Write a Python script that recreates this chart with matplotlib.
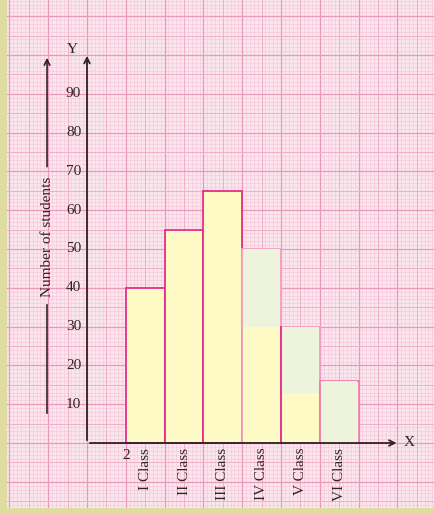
import numpy as np
import matplotlib.pyplot as plt

# 学年ごとの生徒数
classes = ["I Class", "II Class", "III Class", "IV Class", "V Class", "VI Class"]
students = [40, 55, 65, 50, 30, 16]
shade_from = [None, None, None, 30, 13, 0]   # 緑で塗る部分の下端
y_ticks = [10, 20, 30, 40, 50, 60, 70, 80, 90]

bar_left = 10
bar_width = 10

# 色
paper = "#fbe6ee"
fine_c = "#f5c8da"
mid_c = "#efb0c9"
major_c = "#e99ab9"
yellow = "#fefac6"
green = "#eef4dc"
magenta = "#e62d8b"
light_pink = "#f29ec2"
ink = "#2e2424"

plt.rcParams['font.family'] = ['Liberation Serif', 'DejaVu Serif']

fig = plt.figure(figsize=(4.34, 5.14), dpi=100)
fig.patch.set_facecolor("#dedc9f")

# 方眼紙部分
ax = fig.add_axes([7 / 434, 6 / 514, 427 / 434, 508 / 514])
ax.set_facecolor(paper)
px = 3.88
ax.set_xlim((7 - 87) / px, (434 - 87) / px)
ax.set_ylim((443 - 508) / px, 443 / px)
for s in ax.spines.values():
    s.set_visible(False)
ax.set_xticks([])
ax.set_yticks([])

# 方眼 (1目盛り, 5目盛り, 10目盛り)
x0, x1 = ax.get_xlim()
y0, y1 = ax.get_ylim()
for v in np.arange(np.ceil(x0), x1 + 1):
    if v % 10 == 0:
        ax.axvline(v, color=major_c, lw=0.9, zorder=1)
    elif v % 5 == 0:
        ax.axvline(v, color=mid_c, lw=0.7, zorder=1)
    else:
        ax.axvline(v, color=fine_c, lw=0.45, zorder=0.5)
for v in np.arange(np.ceil(y0), y1 + 1):
    if v % 10 == 0:
        ax.axhline(v, color=major_c, lw=0.9, zorder=1)
    elif v % 5 == 0:
        ax.axhline(v, color=mid_c, lw=0.7, zorder=1)
    else:
        ax.axhline(v, color=fine_c, lw=0.45, zorder=0.5)

# 棒グラフ
xs = [bar_left + i * bar_width for i in range(len(classes))]
edges = [magenta, magenta, magenta, light_pink, light_pink, "#ee7cb0"]
for i in range(len(classes)):
    ax.bar(xs[i], students[i], width=bar_width, align="edge", color=yellow,
           edgecolor=edges[i], lw=1.3, zorder=3)
    if shade_from[i] is not None:
        ax.bar(xs[i] + 0.3, students[i] - shade_from[i], width=bar_width - 0.6,
               bottom=shade_from[i], align="edge", color=green, lw=0, zorder=4)
# V Class の左側の線
ax.plot([xs[4], xs[4]], [0, students[4]], color=magenta, lw=1.3, zorder=5)

# 軸 (矢印つき)
ax.annotate("", xy=(0, 100.5), xytext=(0, 0),
            arrowprops=dict(arrowstyle="->", color=ink, lw=1.3), zorder=6)
ax.annotate("", xy=(80.5, 0), xytext=(0, 0),
            arrowprops=dict(arrowstyle="->", color=ink, lw=1.3), zorder=6)
ax.text(-3.8, 101.5, "Y", fontsize=11, ha="center", va="center", color=ink)
ax.text(81.5, 0, "X", fontsize=11, ha="left", va="center", color=ink)

# 目盛りラベル
for t in y_ticks:
    ax.text(-1.5, t, str(t), fontsize=11, ha="right", va="center", color=ink)
ax.text(bar_left, -1.5, "2", fontsize=11, ha="center", va="top", color=ink)
for i in range(len(classes)):
    ax.text(xs[i] + bar_width / 2, -1.2, classes[i], fontsize=11, rotation=90,
            ha="center", va="top", color=ink)

# 縦軸の説明
ax.plot([-10.3, -10.3], [7.7, 35.5], color=ink, lw=1.2, zorder=6)
ax.annotate("", xy=(-10.3, 100), xytext=(-10.3, 70.5),
            arrowprops=dict(arrowstyle="->", color=ink, lw=1.2), zorder=6)
ax.text(-10.3, 53, "Number of students", fontsize=11, rotation=90,
        ha="center", va="center", color=ink)

fig.savefig("out.png", dpi=100, facecolor=fig.get_facecolor())
